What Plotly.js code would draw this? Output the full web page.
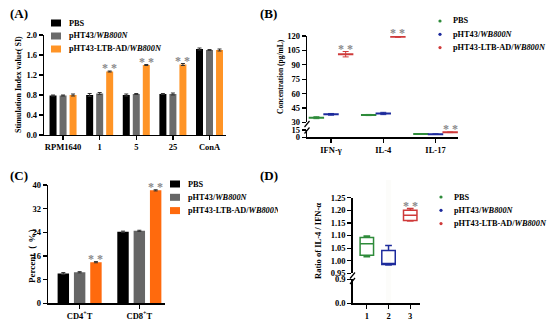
<!DOCTYPE html>
<html><head><meta charset="utf-8">
<script src="https://cdn.plot.ly/plotly-3.0.1.min.js"></script>
<style>html,body{margin:0;padding:0;background:#fff}#chart{width:550px;height:323px}</style>
</head><body><div id="chart"></div>
<script>
const W = 550, H = 323;
const fx = p => p / W, fy = p => 1 - p / H;

const seriesNames = ['PBS', 'pHT43/<i>WB800N</i>', 'pHT43-LTB-AD/<i>WB800N</i>'];

// (A) stimulation index
const catsA = ['RPM1640', '1', '5', '25', 'ConA'];
const siPBS = [0.79, 0.80, 0.80, 0.82, 1.72];
const siPHT = [0.79, 0.83, 0.82, 0.82, 1.70];
const siLTB = [0.80, 1.27, 1.40, 1.41, 1.70];
const siErrPBS = [0.01, 0.03, 0.02, 0.01, 0.02];
const siErrPHT = [0.01, 0.02, 0.01, 0.02, 0.01];
const siErrLTB = [0.02, 0.01, 0.01, 0.02, 0.02];
const sigA = [0, 1, 1, 1, 0];

// (B) cytokine concentration
const catsB = ['IFN-γ', 'IL-4', 'IL-17'];
const concPBS = [34.8, 37.6, 6.8];
const concPHT = [38.3, 39.2, 6.5];
const concLTB = [101.0, 119.3, 10.3];
const concErrPBS = [1.0, 0.6, 0.5];
const concErrPHT = [0.9, 1.2, 0.5];
const concErrLTB = [2.8, 0.6, 0.6];
const sigB = [1, 1, 1];

// (C) T cell percent
const catsC = ['CD4<sup>+</sup>T', 'CD8<sup>+</sup>T'];
const pctPBS = [10.1, 24.2];
const pctPHT = [10.5, 24.5];
const pctLTB = [13.9, 38.2];
const pctErrPBS = [0.3, 0.2];
const pctErrPHT = [0.2, 0.2];
const pctErrLTB = [0.2, 0.2];
const sigC = [1, 1];

// (D) IL-4 / IFN ratio boxes
const groupsD = [1, 2, 3];
const ratioLow = [1.016, 0.983, 1.158];
const ratioQ1 = [1.022, 0.985, 1.160];
const ratioMed = [1.067, 0.988, 1.180];
const ratioQ3 = [1.092, 1.040, 1.200];
const ratioHigh = [1.098, 1.060, 1.207];
const sigD = [0, 0, 1];

const colA = ['#000000', '#6b6b6b', '#ff9426'];
const colC = ['#000000', '#666666', '#ff6a0d'];
const colB = ['#2e8b3a', '#1c2a9c', '#cf3a3a'];
const starCol = '#8a8a8a';
const FONT = 'Liberation Serif, Times New Roman, serif';

const traces = [];
const annotations = [];
const shapes = [];

function star(xref, yref, x, y) {
  annotations.push({xref: xref, yref: yref, x: x, y: y, yanchor: 'middle', yshift: 3,
    text: '* *', showarrow: false, font: {size: 12, color: starCol}});
}

// ---- A bars
const bargap = 0.18, bargroupgap = 0.3;
const slot = (1 - bargap) / 3;
[[siPBS, siErrPBS], [siPHT, siErrPHT], [siLTB, siErrLTB]].forEach(([v, e], s) => {
  traces.push({type: 'bar', x: catsA, y: v, xaxis: 'x', yaxis: 'y', name: seriesNames[s],
    marker: {color: colA[s]}, showlegend: false,
    error_y: {type: 'data', array: e, color: '#333', thickness: 1, width: 2}});
});
sigA.forEach((g, i) => { if (g) star('x', 'y', i + slot, siLTB[i] + siErrLTB[i]); });

// ---- B scatter (broken axis: y2 top, y3 bottom)
const offB = [-0.28, 0, 0.28];
[[concPBS, concErrPBS], [concPHT, concErrPHT], [concLTB, concErrLTB]].forEach(([v, e], s) => {
  ['y2', 'y3'].forEach(ax => {
    traces.push({type: 'scatter', mode: 'markers', x: catsB.map((c, i) => i + offB[s]), y: v,
      xaxis: 'x2', yaxis: ax, name: seriesNames[s], showlegend: false, cliponaxis: true,
      marker: {symbol: 'line-ew-open', size: 11, color: colB[s], line: {color: colB[s], width: 2}},
      error_y: {type: 'data', array: e, color: colB[s], thickness: 1, width: 3}});
  });
});
sigB.forEach((g, i) => { if (g) star('x2', concLTB[i] >= 30 ? 'y2' : 'y3', i + offB[2], concLTB[i] + concErrLTB[i]); });

// ---- C bars
[[pctPBS, pctErrPBS], [pctPHT, pctErrPHT], [pctLTB, pctErrLTB]].forEach(([v, e], s) => {
  traces.push({type: 'bar', x: catsC, y: v, xaxis: 'x3', yaxis: 'y4', name: seriesNames[s],
    marker: {color: colC[s]}, showlegend: false,
    error_y: {type: 'data', array: e, color: '#333', thickness: 1, width: 2}});
});
sigC.forEach((g, i) => { if (g) star('x3', 'y4', i + slot, pctLTB[i] + pctErrLTB[i]); });

// ---- D boxes (drawn on both segments of the broken axis; clipped to each)
groupsD.forEach((g, s) => {
  ['y5', 'y6'].forEach(ax => {
    traces.push({type: 'box', x: [g], q1: [ratioQ1[s]], median: [ratioMed[s]], q3: [ratioQ3[s]],
      lowerfence: [ratioLow[s]], upperfence: [ratioHigh[s]], xaxis: 'x4', yaxis: ax,
      name: seriesNames[s], showlegend: false, width: 0.62, whiskerwidth: 0.5, boxpoints: false,
      fillcolor: 'rgba(255,255,255,0)', line: {color: colB[s], width: 1.5}});
  });
});
sigD.forEach((g, i) => { if (g) star('x4', 'y5', groupsD[i], ratioHigh[i]); });

// ---- legends (drawn compactly as text + swatches)
function legend(x0, y0, step, kind, cols, clipW) {
  seriesNames.forEach((n, s) => {
    const yc = y0 + s * step;
    if (kind === 'rect') {
      shapes.push({type: 'rect', xref: 'paper', yref: 'paper', x0: fx(x0), x1: fx(x0 + 10),
        y0: fy(yc + 3.5), y1: fy(yc - 3.5), fillcolor: cols[s], line: {width: 0}});
    } else {
      shapes.push({type: 'circle', xref: 'paper', yref: 'paper', x0: fx(x0 - 1.6), x1: fx(x0 + 1.6),
        y0: fy(yc + 1.6), y1: fy(yc - 1.6), fillcolor: cols[s], line: {width: 0}});
    }
    const a = {xref: 'paper', yref: 'paper', x: fx(kind === 'rect' ? x0 + 16 : x0 + 11), y: fy(yc),
      xanchor: 'left', yanchor: 'middle', text: n, showarrow: false, font: {size: 8.3, color: '#000'}};
    if (clipW && s === 2) { a.width = clipW; a.align = 'left'; }
    annotations.push(a);
  });
}
legend(51, 23, 13, 'rect', colA);
legend(440, 21, 13.3, 'dot', colB);
legend(170, 184, 13.3, 'rect', colC, 90);
legend(441, 197, 13.3, 'dot', colB);

// ---- axis titles & panel labels
[[19, 85, 'Stimulation Index value( SI)', 8], [281, 77, 'Concentration (pg/mL)', 7.5],
 [32, 254, 'Percent（ %）', 9], [318, 241, 'Ratio of IL-4 / IFN-α', 8.5]].forEach(([x, y, t, sz]) => {
  annotations.push({xref: 'paper', yref: 'paper', x: fx(x), y: fy(y), xanchor: 'center', yanchor: 'middle',
    textangle: -90, text: t, showarrow: false, font: {size: sz, color: '#000'}});
});
[[8, 13, '(A)'], [258, 13, '(B)'], [8, 175, '(C)'], [258, 175, '(D)']].forEach(([x, y, t]) => {
  annotations.push({xref: 'paper', yref: 'paper', x: fx(x), y: fy(y), xanchor: 'left', yanchor: 'middle',
    text: t, showarrow: false, font: {size: 13, color: '#000'}});
});

// ---- axis break marks
function brk(x, y) {
  shapes.push({type: 'line', xref: 'paper', yref: 'paper', x0: fx(x - 2.5), x1: fx(x + 2.5),
    y0: fy(y + 3), y1: fy(y - 3), line: {color: '#000', width: 1.2}});
}
brk(307, 124); brk(307, 130.5);
brk(352.5, 275.5); brk(352.5, 281);

// faint stripe in panel D
shapes.push({type: 'rect', xref: 'x4', yref: 'paper', x0: 1.88, x1: 2.12, y0: fy(312), y1: fy(180),
  fillcolor: 'rgba(242,242,234,0.22)', line: {width: 0}, layer: 'below'});

const ax = {showline: true, linecolor: '#000', linewidth: 1.2, ticks: 'outside', ticklen: 4, tickwidth: 1.2,
  tickcolor: '#000', showgrid: false, zeroline: false, tickfont: {size: 8.5, color: '#000'}, fixedrange: true};

const layout = {
  width: W, height: H, margin: {l: 0, r: 0, t: 0, b: 0}, paper_bgcolor: '#fff', plot_bgcolor: 'rgba(0,0,0,0)',
  font: {family: FONT, weight: 'bold', color: '#000'}, showlegend: false,
  barmode: 'group', bargap: bargap, bargroupgap: bargroupgap,
  xaxis: Object.assign({}, ax, {domain: [fx(44), fx(226)], anchor: 'y', type: 'category', range: [-0.52, 4.45]}),
  yaxis: Object.assign({}, ax, {domain: [fy(135), fy(35)], anchor: 'x', range: [0, 2.0], dtick: 0.4, tickformat: '.1f'}),
  xaxis2: Object.assign({}, ax, {domain: [fx(307), fx(458)], anchor: 'y3', range: [-0.46, 2.43],
    tickvals: [0, 1, 2], ticktext: catsB}),
  yaxis2: Object.assign({}, ax, {domain: [fy(122.3), fy(36)], anchor: 'x2', range: [30, 120],
    tickvals: [30, 45, 60, 75, 90, 105, 120]}),
  yaxis3: Object.assign({}, ax, {domain: [fy(137.3), fy(130)], anchor: 'x2', range: [0, 15], tickvals: [0, 15]}),
  xaxis3: Object.assign({}, ax, {domain: [fx(48), fx(165)], anchor: 'y4', type: 'category', range: [-0.53, 1.43]}),
  yaxis4: Object.assign({}, ax, {domain: [fy(303.3), fy(185)], anchor: 'x3', range: [0, 40], dtick: 8}),
  xaxis4: Object.assign({}, ax, {domain: [fx(352.5), fx(420)], anchor: 'y6', range: [0.34, 3.45], tickvals: [1, 2, 3]}),
  yaxis5: Object.assign({}, ax, {domain: [fy(273.3), fy(197.7)], anchor: 'x4', range: [0.95, 1.25], dtick: 0.05,
    tickformat: '.2f'}),
  yaxis6: Object.assign({}, ax, {domain: [fy(303.3), fy(279.3)], anchor: 'x4', range: [0, 0.9],
    tickvals: [0, 0.9], ticktext: ['0.0', '0.9']}),
  annotations: annotations, shapes: shapes
};

Plotly.newPlot('chart', traces, layout, {staticPlot: true, displayModeBar: false});
</script></body></html>
